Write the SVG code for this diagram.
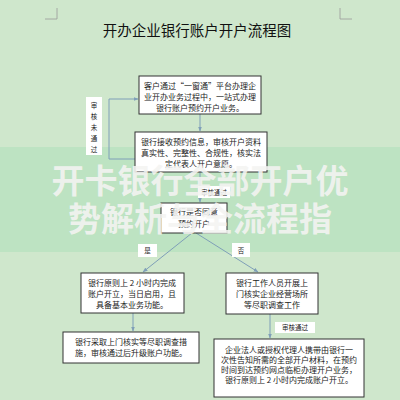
<svg xmlns="http://www.w3.org/2000/svg" width="400" height="400" viewBox="0 0 400 400">
<defs>
<marker id="ah" viewBox="0 0 10 10" refX="9" refY="5" markerWidth="5" markerHeight="5" orient="auto"><path d="M0,1 L10,5 L0,9 z" fill="#7f9fb8"/></marker>
<style>
.box{fill:#ffffff;stroke:#333333;stroke-width:1}
.lbl{fill:#ffffff;stroke:none}
.t{font-family:"Noto Sans CJK SC","Noto Sans",sans-serif;font-size:8px;fill:#222222;text-anchor:middle}
.s{font-family:"Noto Sans CJK SC","Noto Sans",sans-serif;font-size:6.5px;fill:#222222;text-anchor:middle}
.c{fill:none;stroke:#7f9fb8;stroke-width:1}
.wm{font-family:"Noto Sans CJK SC","Noto Sans",sans-serif;font-size:33px;font-weight:bold;fill:#f4f4f2;fill-opacity:0.9;text-anchor:middle}
</style>
</defs>
<rect width="400" height="400" fill="#cfe7cc"/>
<rect x="0" y="147" width="400" height="105" fill="#bde3c2"/>
<g id="corners" fill="none" stroke="#999999" stroke-width="0.8">
<path d="M57,8 V19 H45"/>
<path d="M340,8 V19 H352"/>
</g>
<text x="197" y="36" font-family="Noto Sans CJK SC,sans-serif" font-size="14.5" fill="#111111" text-anchor="middle">开办企业银行账户开户流程图</text>
<g id="connectors">
<line class="c" x1="200" y1="114" x2="200" y2="131" marker-end="url(#ah)"/>
<path class="c" d="M135,159 H109 V99 H138" marker-end="url(#ah)"/>
<line class="c" x1="200" y1="172" x2="200" y2="202" marker-end="url(#ah)"/>
<line class="c" x1="192" y1="233" x2="143" y2="272" marker-end="url(#ah)"/>
<line class="c" x1="196" y1="233" x2="258" y2="272" marker-end="url(#ah)"/>
<line class="c" x1="133" y1="313" x2="133" y2="331" marker-end="url(#ah)"/>
<line class="c" x1="270" y1="314" x2="270" y2="338" marker-end="url(#ah)"/>
<g id="lbl-fail"><rect class="lbl" x="86" y="97" width="16" height="58"/>
<text class="s" x="94" y="108">审</text><text class="s" x="94" y="119">核</text><text class="s" x="94" y="130">未</text><text class="s" x="94" y="141">通</text><text class="s" x="94" y="152">过</text></g>
<g id="lbl-pass1"><rect class="lbl" x="198" y="186" width="32" height="12"/><text class="s" x="214" y="194.5">审核通过</text></g>
<g id="lbl-yes"><rect class="lbl" x="138" y="244" width="19" height="13"/><text class="s" x="147.5" y="253">是</text></g>
<g id="lbl-no"><rect class="lbl" x="232" y="243" width="18" height="14"/><text class="s" x="241" y="252.5">否</text></g>
<g id="lbl-pass2"><rect class="lbl" x="275" y="322" width="40" height="11"/><text class="s" x="295" y="330">审核通过</text></g>
</g>
<g id="n1"><rect class="box" x="139" y="76" width="122" height="38"/>
<text class="t" x="200" y="89">客户通过“一窗通”平台办理企</text>
<text class="t" x="200" y="100">业开办业务过程中，一站式办理</text>
<text class="t" x="200" y="111">银行账户预约开户业务。</text></g>
<g id="n2"><rect class="box" x="135" y="132" width="132" height="40"/>
<text class="t" x="201" y="145">银行接收预约信息，审核开户资料</text>
<text class="t" x="201" y="156">真实性、完整性、合规性，核实法</text>
<text class="t" x="201" y="167">定代表人开户意愿。</text></g>
<g id="n3"><rect class="box" x="161" y="203" width="66" height="30"/>
<text class="t" x="194" y="215">银行是否同意</text>
<text class="t" x="194" y="227">预约开户</text></g>
<g id="n4"><rect class="box" x="81" y="273" width="103" height="40"/>
<text class="t" x="132" y="286">银行原则上 2 小时内完成</text>
<text class="t" x="132" y="297">账户开立，当日启用，且</text>
<text class="t" x="132" y="308">具备基本业务功能。</text></g>
<g id="n5"><rect class="box" x="63" y="332" width="136" height="31"/>
<text class="t" x="131" y="345">银行采取上门核实等尽职调查措</text>
<text class="t" x="131" y="356">施，审核通过后升级账户功能。</text></g>
<g id="n6"><rect class="box" x="226" y="273" width="92" height="41"/>
<text class="t" x="272" y="286">银行工作人员开展上</text>
<text class="t" x="272" y="297">门核实企业经营场所</text>
<text class="t" x="272" y="308">等尽职调查工作</text></g>
<g id="n7"><rect class="box" x="214" y="339" width="150" height="58"/>
<text class="t" x="289" y="353">企业法人或授权代理人携带由银行一</text>
<text class="t" x="289" y="363">次性告知所需的全部开户材料，在预约</text>
<text class="t" x="289" y="373">时间到达预约网点临柜办理开户业务，</text>
<text class="t" x="289" y="383">银行原则上 2 小时内完成账户开立。</text></g>
<g id="watermark">
<text class="wm" x="200" y="193">开卡银行全部开户优</text>
<text class="wm" x="200" y="231">势解析与全流程指</text>
</g>
</svg>
